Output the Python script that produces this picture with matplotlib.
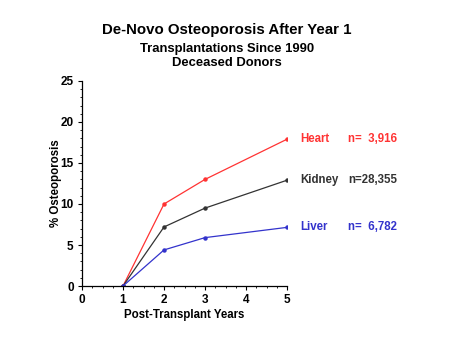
import matplotlib
matplotlib.use("Agg")
import matplotlib.pyplot as plt
from matplotlib.ticker import MultipleLocator

plt.rcParams['font.family'] = ['Liberation Sans', 'DejaVu Sans']
plt.rcParams['font.weight'] = 'bold'

years = [1, 2, 3, 5]
series = ["Heart", "Kidney", "Liver"]
heart = [0, 10.0, 13.0, 17.9]
kidney = [0, 7.2, 9.5, 12.9]
liver = [0, 4.4, 5.9, 7.15]
counts = ["n=  3,916", "n=28,355", "n=  6,782"]
colors = ["#ff3333", "#333333", "#3333cc"]

fig = plt.figure(figsize=(4.67, 3.4), dpi=100)
ax = fig.add_axes([0.1756, 0.1588, 0.4390, 0.6030])

for name, vals, n, c in zip(series, [heart, kidney, liver], counts, colors):
    ax.plot(years, vals, color=c, lw=0.9, marker='o', ms=2.2, mec=c, mfc=c)
    ax.annotate(name, xy=(years[-1], vals[-1]), xytext=(9.4, 0),
                textcoords='offset points', va='center', ha='left',
                color=c, fontsize=8.3, fontweight='bold')
    ax.annotate(n, xy=(years[-1], vals[-1]), xytext=(44, 0),
                textcoords='offset points', va='center', ha='left',
                color=c, fontsize=8.3, fontweight='bold')

ax.set_xlim(0, 5)
ax.set_ylim(0, 25)
ax.xaxis.set_major_locator(MultipleLocator(1))
ax.xaxis.set_minor_locator(MultipleLocator(0.25))
ax.yaxis.set_major_locator(MultipleLocator(5))
ax.yaxis.set_minor_locator(MultipleLocator(1))
ax.tick_params(which='major', length=3, width=0.8, labelsize=8.5, pad=3)
ax.tick_params(which='minor', length=1.5, width=0.6)
for s in ['top', 'right']:
    ax.spines[s].set_visible(False)
ax.spines['left'].set_linewidth(0.9)
ax.spines['bottom'].set_linewidth(0.9)
for lab in ax.get_xticklabels() + ax.get_yticklabels():
    lab.set_fontweight('bold')

ax.set_xlabel("Post-Transplant Years", fontsize=8.3, fontweight='bold', labelpad=2)
ax.set_ylabel("% Osteoporosis", fontsize=8.3, fontweight='bold', labelpad=-1)

fig.text(0.486, 0.911, "De-Novo Osteoporosis After Year 1", ha='center', va='center',
         fontsize=10.8, fontweight='bold')
fig.text(0.486, 0.856, "Transplantations Since 1990", ha='center', va='center',
         fontsize=9.4, fontweight='bold')
fig.text(0.486, 0.815, "Deceased Donors", ha='center', va='center',
         fontsize=9.4, fontweight='bold')

fig.savefig("out.png", dpi=100)
